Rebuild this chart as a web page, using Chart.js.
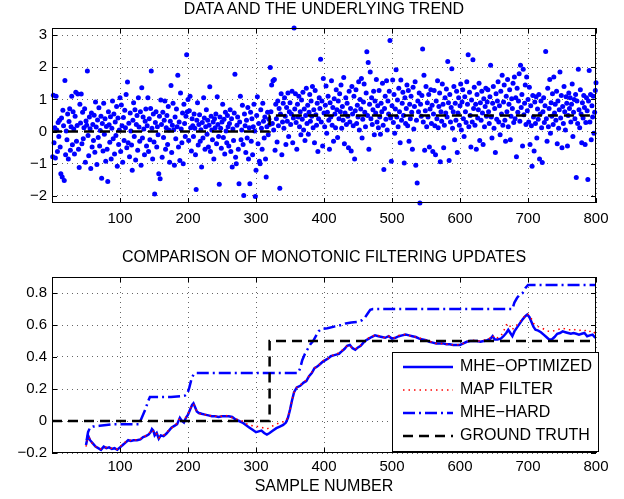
<!DOCTYPE html>
<html>
<head>
<meta charset="utf-8">
<script src="https://cdn.jsdelivr.net/npm/chart.js@4.4.1/dist/chart.umd.min.js"></script>
<style>
  body { margin: 0; background: #fff; }
  #contenedor { position: relative; width: 624px; height: 499px; }
  #graficoDatos { position: absolute; left: 0; top: 0; }
  #graficoFiltros { position: absolute; left: 0; top: 245px; }
  .titulo {
    position: absolute; left: 52px; width: 544px; height: 20px; line-height: 20px;
    text-align: center; font: 16px "Liberation Sans", Arial, Helvetica, sans-serif; color: #000;
    white-space: nowrap;
  }
</style>
</head>
<body>
<div id="contenedor">
  <canvas id="graficoDatos" width="624" height="245" style="width:624px;height:245px"></canvas>
  <canvas id="graficoFiltros" width="624" height="254" style="width:624px;height:254px"></canvas>
  <div class="titulo" style="top:0px">DATA AND THE UNDERLYING TREND</div>
  <div class="titulo" style="top:248px">COMPARISON OF MONOTONIC FILTERING UPDATES</div>
</div>
<script>
// Datos (muestra 1..800)
const muestras = [
  -0.78, 1.13, -0.35, 0.12, -0.82, 1.10, 0.05, -0.62, 0.28, -0.15, 0.35, -0.48, -1.31, 0.42, -1.41, 0.66, 0.18, -1.52, 1.59, -0.72,
  0.02, -0.25, 0.55, -0.85, 0.31, 0.71, -0.58, 0.15, 1.10, -0.41, 0.62, 0.08, -0.70, 0.48, 1.22, -0.30, 0.19, 1.17, -0.55, -1.12,
  0.85, 0.27, 1.17, -0.38, 0.60, -0.22, 0.12, 0.71, -0.95, 0.33, 0.20, 1.88, -0.12, -0.75, 0.45, 0.09, -1.15, 0.58, -0.48, 0.22,
  -0.28, 0.51, -0.64, 0.92, 0.14, -1.02, 0.36, -0.18, 0.74, -0.45, 0.03, 0.48, -1.45, 0.25, -0.60, 0.88, -0.08, 0.40, -0.92, 0.16,
  -0.55, -1.55, 0.62, 0.21, -0.33, 0.46, -0.85, 0.10, 0.95, -0.22, 0.55, -0.70, 0.30, -0.12, 0.78, -1.08, 0.42, -0.40, 0.05, 1.05,
  -0.62, 0.83, 0.18, -0.95, 0.44, -0.28, 0.66, 0.12, 1.15, -0.50, 1.54, -0.35, 0.26, -0.78, 0.58, 0.02, -0.42, -1.20, 0.35, 0.90,
  -0.15, 0.68, -0.88, 0.22, 0.50, -0.58, 1.05, 0.14, -0.30, 0.62, -1.05, 1.36, -0.20, 0.45, 0.08, -0.72, 0.32, 0.70, -0.45, 0.18,
  1.05, -0.62, 0.40, -0.25, 0.72, 1.88, 0.10, -0.85, 0.55, -0.32, -1.94, 0.28, 0.62, -0.48, 0.15, -0.10, -1.31, 0.48, -1.47, 0.98,
  0.22, -0.80, 0.60, -0.18, 0.35, 0.95, -0.55, 0.12, 0.50, -0.40, 0.78, 0.05, -0.95, 0.32, 1.43, -0.65, 0.20, 0.88, 0.06, -1.05,
  0.45, -0.22, 0.70, 0.15, 1.75, -0.48, 0.30, -0.90, 1.20, 0.08, -0.35, 0.58, -1.00, 0.85, 0.25, -0.15, 0.48, 2.39, 0.62, 1.00,
  -0.28, 0.65, 1.10, 0.12, -0.60, 0.40, 0.18, -0.15, 0.55, 0.10, -0.72, -1.80, 0.35, 0.90, -0.42, 0.22, 0.52, -0.30, 0.06, -1.10,
  0.28, -0.20, 1.05, 0.42, -0.55, 0.15, 0.68, -0.08, 0.35, -0.48, 0.20, 1.39, -0.62, 0.48, 0.05, -0.25, 0.30, -0.85, 0.40, 0.12,
  0.55, -0.38, 1.08, 0.22, -0.15, -1.64, 0.45, 0.10, -0.52, 0.30, 0.85, -0.18, 0.38, -0.70, 0.60, 0.02, -0.35, 0.50, 0.15, -0.45,
  0.25, 0.68, -0.62, 0.40, -1.10, 0.08, -0.28, 0.58, 1.78, -0.80, -1.00, 0.20, 0.45, -0.55, -1.62, 0.30, 1.10, -0.25, 0.05, 0.82,
  -0.40, -1.99, 0.55, 0.18, -0.65, 0.35, -0.20, 0.75, -0.85, 0.12, -1.62, 0.60, -0.30, 0.40, -0.72, 0.15, 0.85, 0.02, -2.02, -1.20,
  0.50, 1.08, -0.38, 0.25, -0.92, -1.00, 0.68, 0.10, -0.55, 0.88, 0.32, -0.20, 0.45, -0.85, -1.41, 0.15, 0.60, -0.10, 0.38, 0.22,
  1.99, 0.62, 1.45, 0.25, 1.58, 0.05, 1.62, -0.58, 0.85, 0.40, -0.32, 0.95, 0.18, 0.72, -1.76, 0.55, 1.18, -0.72, 0.30, 0.88,
  0.10, 1.05, 0.48, -0.40, 0.75, 0.32, 1.20, -0.15, 0.62, 0.90, 0.22, 0.55, 1.25, -0.35, 0.42, 3.22, 0.70, 1.18, 0.28, -0.55,
  0.85, 0.45, 1.10, 0.15, 0.62, -0.10, 0.98, 0.38, 1.22, 0.05, 0.70, -0.28, 0.50, 1.35, 0.25, 0.82, -0.08, 0.60, 1.15, 0.32,
  0.95, 0.48, 1.40, 0.12, 0.68, -0.35, 1.28, 0.52, 0.20, 0.88, -0.62, 0.40, 1.05, 0.72, 2.25, 0.30, 0.95, -0.45, 1.65, 0.58,
  0.15, 0.82, 1.42, -0.05, 0.60, 1.10, 0.35, -0.55, 0.90, 0.45, 1.58, 0.20, 0.75, -0.30, 1.02, 0.55, 0.12, 1.30, 0.68, -0.18,
  0.95, 0.40, 1.18, 0.62, 1.45, 0.10, 0.78, 0.35, 1.68, -0.38, 0.58, 1.05, 0.22, 0.88, 0.48, -0.50, 1.25, 0.30, 0.72, -0.60,
  1.40, 0.55, 0.18, 1.10, -0.85, 0.65, 1.30, 0.25, 0.82, 0.45, 1.55, 0.05, 1.00, 0.70, 1.65, -0.20, 0.38, 0.92, 1.48, 0.60,
  0.15, 1.20, 2.48, 0.50, 2.15, -0.55, 0.85, 1.85, 0.40, 1.05, 0.22, 0.68, 1.25, -0.10, 0.95, 0.58, 1.62, 0.30, 0.80, 0.12,
  1.28, 0.45, -0.08, 0.88, 0.62, 1.50, 0.20, -1.18, 0.72, 1.10, 0.38, 1.58, 0.05, 0.95, 0.55, 1.25, 2.83, 0.42, -0.92, 0.80,
  1.60, 0.28, 1.15, -0.05, 0.70, 1.92, 0.45, 0.98, 0.15, 1.35, 0.62, -0.35, 1.60, 0.35, 0.88, 1.22, 0.50, -0.98, 1.05, 0.25,
  0.72, 1.45, 0.18, 1.28, -0.30, 0.85, 0.40, 1.10, 0.60, -0.55, 1.38, 0.08, 0.78, 1.55, -1.05, 0.35, -1.60, 0.95, 0.62, 1.20,
  -2.22, 0.85, 0.48, 1.12, 2.57, 0.30, 1.75, -0.58, 0.65, 1.40, 0.15, 0.90, 0.45, 1.15, -0.48, 0.70, 1.30, 0.25, 0.82, -0.62,
  0.55, 1.28, 0.18, -0.72, 0.95, 0.40, 1.58, 0.12, 0.78, 1.20, -0.94, 0.62, 0.32, 1.48, 0.85, -0.50, 0.20, 1.05, 0.58, 1.32,
  0.45, 2.18, 0.90, -0.90, 1.15, 0.30, 0.75, 1.95, 0.10, 0.62, 1.40, -0.25, 0.88, 0.35, 1.25, -0.65, 0.58, 1.05, 0.20, 0.80,
  1.48, 0.05, 0.92, 1.30, 0.40, -0.15, 1.08, 0.62, 0.28, 1.55, 0.85, 2.39, 0.15, 1.22, 0.50, -0.48, 0.98, 0.30, 2.23, 0.72,
  1.38, 0.20, 0.85, -0.55, 1.15, 0.42, 0.68, 1.50, -0.28, 0.90, 0.35, 1.25, 0.58, -0.40, 1.02, 0.15, 0.78, 1.35, 0.48, 0.92,
  1.30, 0.62, 0.25, 1.08, 2.06, 0.45, -0.20, 0.88, 1.40, 0.10, 0.72, -0.65, 1.18, 0.38, 0.95, 1.55, 0.30, 0.80, -0.10, 1.25,
  0.55, 1.75, 0.20, 0.92, 1.45, 0.35, -0.30, 1.10, 0.62, 1.62, 0.15, 0.85, 1.30, -0.25, 0.48, 1.02, 0.72, 1.50, 0.28, 1.70,
  0.40, 1.05, -0.78, 1.35, 0.60, 0.95, 1.80, 0.32, 2.06, 0.75, 1.15, -0.45, 1.94, 0.52, 0.88, 1.45, 0.22, 1.70, 0.65, 1.00,
  0.30, 1.38, -0.40, 0.80, 0.18, -1.08, 1.12, 0.45, -0.60, 0.92, 0.25, 1.08, -0.20, 0.70, 0.38, 1.15, -0.85, 0.55, 0.95, 0.12,
  -0.96, 0.62, 1.05, 0.28, 0.80, 2.49, 0.40, -0.30, 1.35, 0.15, 0.72, 1.62, -0.05, 0.90, 0.48, 1.18, 0.22, 1.70, 0.58, 0.85,
  0.35, 1.25, -0.38, 0.95, 0.10, 0.68, 1.85, 0.42, 1.12, -0.50, 0.78, 0.25, 1.40, 0.62, 0.05, 1.08, 0.88, -0.45, 0.50, 1.20,
  0.72, 1.05, 0.30, 0.85, 1.48, -0.15, 0.60, 1.00, 0.40, 1.15, -1.43, 0.95, 0.25, 1.94, 0.68, 0.12, 1.30, 0.55, -0.35, 0.90,
  0.42, 1.12, 0.75, -0.40, 0.28, 1.05, 0.65, -1.49, 0.95, 1.90, 0.30, 1.15, -0.25, 0.80, 0.45, 1.10, -0.05, 0.60, 1.28, 1.52
];

// Tendencia real (escalon en 320)
const tendenciaX = [0, 320, 320, 800];
const tendenciaY = [0, 0, 0.5, 0.5];

// Filtros: eje x comun para MHE optimizado y MAP
const filtroX = [
  50, 53, 56, 60, 64, 68, 72, 76, 80, 84, 88, 92, 96, 100, 104, 108, 112, 116, 120, 125,
  130, 134, 138, 142, 145, 147, 149, 151, 154, 157, 160, 164, 168, 172, 176, 180, 184, 188, 191, 194,
  197, 200, 203, 206, 208, 210, 213, 216, 220, 225, 230, 235, 240, 245, 250, 255, 260, 265, 270, 275,
  280, 285, 290, 295, 300, 304, 308, 312, 316, 320, 325, 330, 335, 340, 344, 347, 350, 353, 356, 360,
  365, 370, 374, 378, 382, 386, 390, 394, 398, 402, 406, 410, 414, 418, 422, 426, 430, 434, 438, 442,
  446, 450, 454, 458, 462, 466, 470, 475, 480, 485, 490, 495, 500, 505, 510, 515, 520, 525, 530, 535,
  540, 545, 550, 555, 560, 565, 570, 575, 580, 585, 590, 595, 600, 605, 610, 615, 620, 625, 630, 635,
  640, 645, 648, 651, 655, 660, 664, 668, 671, 674, 677, 680, 684, 688, 692, 696, 699, 702, 705, 708,
  711, 715, 719, 723, 727, 731, 735, 739, 743, 747, 751, 755, 759, 763, 767, 771, 775, 779, 783, 787,
  791, 795, 798, 800
];
const mheOptimizado = [
  -0.15, -0.09, -0.12, -0.14, -0.16, -0.17, -0.18, -0.16, -0.17, -0.165, -0.175, -0.17, -0.18, -0.165, -0.15, -0.135, -0.12, -0.125, -0.12, -0.12,
  -0.115, -0.10, -0.095, -0.085, -0.07, -0.05, -0.06, -0.09, -0.075, -0.11, -0.09, -0.095, -0.08, -0.06, -0.04, -0.03, -0.02, 0.02, 0.0, -0.01,
  0.02, 0.04, 0.07, 0.10, 0.11, 0.09, 0.06, 0.05, 0.045, 0.04, 0.035, 0.03, 0.03, 0.025, 0.03, 0.03, 0.03, 0.025, 0.01, 0.0,
  -0.01, -0.025, -0.04, -0.055, -0.07, -0.065, -0.06, -0.075, -0.085, -0.075, -0.06, -0.045, -0.035, -0.025, -0.01, 0.02, 0.07, 0.13, 0.18, 0.21,
  0.22, 0.24, 0.25, 0.28, 0.30, 0.33, 0.34, 0.355, 0.37, 0.38, 0.39, 0.405, 0.41, 0.415, 0.42, 0.435, 0.45, 0.47, 0.475, 0.455,
  0.445, 0.46, 0.47, 0.49, 0.505, 0.515, 0.525, 0.535, 0.53, 0.525, 0.52, 0.53, 0.515, 0.52, 0.53, 0.535, 0.54, 0.535, 0.53, 0.525,
  0.515, 0.51, 0.505, 0.495, 0.49, 0.485, 0.485, 0.485, 0.48, 0.48, 0.475, 0.475, 0.475, 0.485, 0.495, 0.50, 0.50, 0.50, 0.495, 0.50,
  0.505, 0.515, 0.53, 0.51, 0.51, 0.515, 0.53, 0.55, 0.57, 0.55, 0.53, 0.56, 0.585, 0.61, 0.635, 0.655, 0.665, 0.65, 0.62, 0.59,
  0.57, 0.565, 0.555, 0.54, 0.525, 0.51, 0.51, 0.525, 0.545, 0.55, 0.56, 0.555, 0.55, 0.545, 0.55, 0.545, 0.54, 0.545, 0.55, 0.53,
  0.535, 0.54, 0.525, 0.52
];
const mapFiltro = [
  -0.16, -0.10, -0.11, -0.15, -0.16, -0.165, -0.175, -0.17, -0.165, -0.17, -0.17, -0.175, -0.175, -0.16, -0.145, -0.13, -0.125, -0.12, -0.115, -0.12,
  -0.11, -0.105, -0.09, -0.08, -0.065, -0.055, -0.065, -0.085, -0.08, -0.105, -0.095, -0.09, -0.075, -0.055, -0.045, -0.025, -0.015, 0.015, 0.005, -0.005,
  0.025, 0.045, 0.075, 0.10, 0.105, 0.085, 0.06, 0.05, 0.04, 0.04, 0.03, 0.035, 0.03, 0.03, 0.03, 0.035, 0.03, 0.02, 0.015, 0.005,
  0.0, -0.015, -0.025, -0.03, -0.035, -0.035, -0.04, -0.045, -0.05, -0.04, -0.03, -0.02, -0.01, -0.005, 0.0, 0.025, 0.07, 0.13, 0.18, 0.21,
  0.225, 0.245, 0.255, 0.28, 0.305, 0.33, 0.345, 0.355, 0.375, 0.385, 0.39, 0.40, 0.415, 0.42, 0.425, 0.44, 0.455, 0.47, 0.47, 0.455,
  0.45, 0.46, 0.475, 0.49, 0.51, 0.52, 0.53, 0.535, 0.535, 0.525, 0.52, 0.53, 0.52, 0.52, 0.535, 0.54, 0.54, 0.535, 0.53, 0.525,
  0.52, 0.51, 0.505, 0.50, 0.49, 0.485, 0.485, 0.485, 0.48, 0.48, 0.475, 0.475, 0.48, 0.485, 0.495, 0.50, 0.505, 0.50, 0.50, 0.505,
  0.51, 0.52, 0.535, 0.515, 0.52, 0.53, 0.56, 0.60, 0.61, 0.59, 0.57, 0.59, 0.60, 0.62, 0.64, 0.66, 0.67, 0.66, 0.64, 0.61,
  0.60, 0.59, 0.585, 0.575, 0.565, 0.56, 0.56, 0.565, 0.57, 0.575, 0.58, 0.575, 0.57, 0.57, 0.575, 0.565, 0.565, 0.57, 0.57, 0.555,
  0.56, 0.565, 0.55, 0.545
];

// MHE con restriccion dura (monotono)
const mheDuroX = [
  51, 53, 56, 60, 70, 80, 90, 100, 110, 120, 128, 132, 135, 138, 141, 144, 160, 175, 190, 196,
  199, 202, 205, 208, 211, 250, 300, 340, 362, 365, 368, 372, 376, 380, 384, 388, 392, 396, 405, 415,
  425, 432, 440, 450, 456, 460, 464, 468, 472, 550, 620, 677, 680, 684, 688, 692, 696, 700, 750, 800
];
const mheDuro = [
  -0.12, -0.07, -0.04, -0.035, -0.03, -0.025, -0.02, -0.02, -0.02, -0.02, -0.02, 0.02, 0.05, 0.08, 0.12, 0.15, 0.15, 0.15, 0.155, 0.16,
  0.17, 0.21, 0.26, 0.29, 0.30, 0.30, 0.30, 0.30, 0.30, 0.33, 0.38, 0.42, 0.45, 0.48, 0.50, 0.53, 0.56, 0.575, 0.58, 0.59,
  0.60, 0.61, 0.615, 0.62, 0.63, 0.645, 0.67, 0.695, 0.70, 0.70, 0.70, 0.70, 0.74, 0.77, 0.79, 0.80, 0.83, 0.85, 0.85, 0.85
];

// Marcas de los ejes
const ticksX = [100, 200, 300, 400, 500, 600, 700, 800];
const ticksYDatos = [-2, -1, 0, 1, 2, 3];
const ticksYFiltros = [-0.2, 0, 0.2, 0.4, 0.6, 0.8];

const AZUL = "#0000ff";
const FUENTE = '"Liberation Sans", Arial, Helvetica, sans-serif';
Chart.defaults.font.family = FUENTE;
Chart.defaults.color = "#000";

const aPuntos = (xs, ys) => xs.map((x, i) => ({ x: x, y: ys[i] }));
const formato = (v) => (v < 0 ? "\u2212" + Math.abs(v) : String(v));

// Caja del eje y marcas interiores (estilo matlab)
const cajaEjes = {
  id: "cajaEjes",
  afterDraw(chart) {
    const { ctx, chartArea: a, scales } = chart;
    ctx.save();
    ctx.strokeStyle = "#000";
    ctx.lineWidth = 1;
    ctx.setLineDash([]);
    ctx.beginPath();
    scales.x.ticks.forEach((t) => {
      const px = Math.round(scales.x.getPixelForValue(t.value)) + 0.5;
      ctx.moveTo(px, a.bottom);
      ctx.lineTo(px, a.bottom - 5);
      ctx.moveTo(px, a.top);
      ctx.lineTo(px, a.top + 5);
    });
    scales.y.ticks.forEach((t) => {
      const py = Math.round(scales.y.getPixelForValue(t.value)) + 0.5;
      ctx.moveTo(a.left, py);
      ctx.lineTo(a.left + 5, py);
      ctx.moveTo(a.right, py);
      ctx.lineTo(a.right - 5, py);
    });
    ctx.stroke();
    ctx.strokeRect(a.left + 0.5, a.top + 0.5, a.width - 1, a.height - 1);
    ctx.restore();
  },
};

// Leyenda dibujada dentro del area del grafico
const leyenda = {
  id: "leyenda",
  afterDraw(chart) {
    const { ctx } = chart;
    const x = 392, y = 107, w = 207, h = 100;
    ctx.save();
    ctx.fillStyle = "#fff";
    ctx.fillRect(x, y, w, h);
    ctx.strokeStyle = "#000";
    ctx.lineWidth = 1;
    ctx.strokeRect(x + 0.5, y + 0.5, w - 1, h - 1);
    ctx.font = "16px " + FUENTE;
    ctx.textBaseline = "middle";
    chart.data.datasets.forEach((ds, i) => {
      const fy = y + 15 + i * 23;
      ctx.beginPath();
      ctx.setLineDash(ds.borderDash || []);
      ctx.strokeStyle = ds.borderColor;
      ctx.lineWidth = ds.borderWidth;
      ctx.moveTo(x + 11, fy);
      ctx.lineTo(x + 61, fy);
      ctx.stroke();
      ctx.setLineDash([]);
      ctx.fillStyle = "#000";
      ctx.fillText(ds.label, x + 68, fy);
    });
    ctx.restore();
  },
};

const ejeX = (alto, relleno, titulo) => ({
  type: "linear",
  min: 0,
  max: 800,
  afterBuildTicks: (eje) => {
    eje.ticks = ticksX.map((v) => ({ value: v }));
  },
  afterFit: (eje) => {
    eje.height = alto;
  },
  grid: { color: "rgba(0,0,0,0.6)", drawTicks: false },
  border: { display: false, dash: [1, 4] },
  ticks: { padding: relleno, autoSkip: false, maxRotation: 0, font: { size: 15 } },
  title: titulo || { display: false },
});

const ejeY = (min, max, valores) => ({
  min: min,
  max: max,
  afterBuildTicks: (eje) => {
    eje.ticks = valores.map((v) => ({ value: v }));
  },
  afterFit: (eje) => {
    eje.width = 52;
  },
  grid: { color: "rgba(0,0,0,0.6)", drawTicks: false },
  border: { display: false, dash: [1, 4] },
  ticks: { padding: 5, font: { size: 15 }, callback: (v) => formato(v) },
});

// Grafico superior: datos y tendencia
new Chart(document.getElementById("graficoDatos"), {
  type: "scatter",
  data: {
    datasets: [
      {
        type: "line",
        label: "tendencia",
        data: aPuntos(tendenciaX, tendenciaY),
        borderColor: "#000",
        borderWidth: 2.5,
        borderDash: [10, 6],
        pointRadius: 0,
        order: 1,
      },
      {
        label: "datos",
        data: muestras.map((y, i) => ({ x: i + 1, y: y })),
        backgroundColor: AZUL,
        borderWidth: 0,
        pointRadius: 2.5,
        clip: false,
        order: 2,
      },
    ],
  },
  options: {
    responsive: false,
    animation: false,
    layout: { padding: { left: 0, right: 28, top: 28, bottom: 0 } },
    scales: {
      x: ejeX(42, 7),
      y: ejeY(-2.22, 3.22, ticksYDatos),
    },
    plugins: {
      legend: { display: false },
      tooltip: { enabled: false },
    },
  },
  plugins: [cajaEjes],
});

// Grafico inferior: comparacion de filtros
new Chart(document.getElementById("graficoFiltros"), {
  type: "line",
  data: {
    datasets: [
      {
        label: "MHE\u2212OPTIMIZED",
        data: aPuntos(filtroX, mheOptimizado),
        borderColor: AZUL,
        borderWidth: 2.5,
        pointRadius: 0,
        order: 4,
      },
      {
        label: "MAP FILTER",
        data: aPuntos(filtroX, mapFiltro),
        borderColor: "#ff0000",
        borderWidth: 1.5,
        borderDash: [1.5, 4],
        pointRadius: 0,
        order: 3,
      },
      {
        label: "MHE\u2212HARD",
        data: aPuntos(mheDuroX, mheDuro),
        borderColor: AZUL,
        borderWidth: 2.5,
        borderDash: [12, 4, 2, 4],
        pointRadius: 0,
        order: 2,
      },
      {
        label: "GROUND TRUTH",
        data: aPuntos(tendenciaX, tendenciaY),
        borderColor: "#000",
        borderWidth: 2.5,
        borderDash: [10, 6],
        pointRadius: 0,
        order: 1,
      },
    ],
  },
  options: {
    responsive: false,
    animation: false,
    layout: { padding: { left: 0, right: 28, top: 32, bottom: 0 } },
    scales: {
      x: ejeX(46, 5, {
        display: true,
        text: "SAMPLE NUMBER",
        font: { size: 16 },
        padding: { top: 0, bottom: 2.4 },
      }),
      y: ejeY(-0.2, 0.9, ticksYFiltros),
    },
    plugins: {
      legend: { display: false },
      tooltip: { enabled: false },
    },
  },
  plugins: [cajaEjes, leyenda],
});
</script>
</body>
</html>
